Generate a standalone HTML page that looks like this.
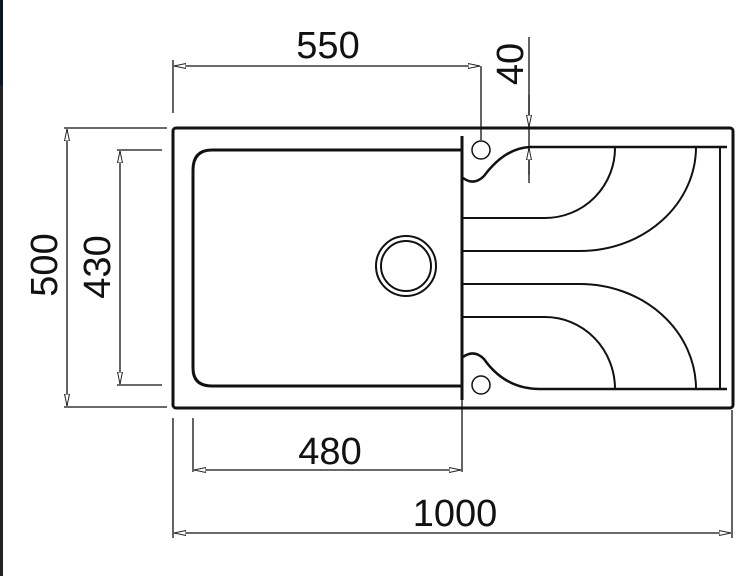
<!DOCTYPE html>
<html><head><style>html,body{margin:0;padding:0;background:#fff}svg{display:block}</style></head>
<body>
<svg width="747" height="576" viewBox="0 0 747 576" xmlns="http://www.w3.org/2000/svg" font-family="Liberation Sans, sans-serif">
<rect x="0" y="0" width="747" height="576" fill="#fff"/>
<rect x="0" y="0" width="3" height="576" fill="#222"/>
<rect x="0" y="0" width="3" height="85" fill="#0c1420"/>
<defs><marker id="a" markerWidth="12" markerHeight="6" refX="12" refY="3" orient="auto" markerUnits="userSpaceOnUse"><path d="M0,0.5 L12,3 L0,5.5 Z" fill="#fff" stroke="#222" stroke-width="1"/></marker></defs>
<g fill="none" stroke="#111">
<!-- outer -->
<rect x="173" y="128" width="560" height="280" rx="3" stroke-width="3"/>
<!-- bowl -->
<path d="M462,150 H212 Q193,150 193,170 V368 Q193,386 212,386 H462" stroke-width="3"/>
<line x1="462" y1="136" x2="462" y2="400" stroke-width="3"/>
<circle cx="406" cy="266" r="30" stroke-width="2"/>
<circle cx="406" cy="266" r="25" stroke-width="2"/>
<circle cx="481" cy="150" r="9" stroke-width="1.5"/>
<circle cx="481" cy="385" r="9" stroke-width="1.5"/>
<!-- drainer -->
<path d="M463,178 Q474,186 484,176 Q505,148 530,147 H727" stroke-width="2.5"/>
<path d="M463,357 Q474,349 484,359 Q505,389 540,389 H727" stroke-width="2.5"/>
<line x1="720" y1="147" x2="720" y2="389" stroke-width="2"/>
<path d="M463,218 H545 A70,70 0 0 0 615,147" stroke-width="2"/>
<path d="M463,251 H580 A116,104 0 0 0 696,147" stroke-width="2"/>
<path d="M463,284 H580 A116,105 0 0 1 696,389" stroke-width="2"/>
<path d="M463,317 H545 A70,72 0 0 1 615,389" stroke-width="2"/>
<!-- dims -->
<g stroke-width="1.3">
<line x1="173" y1="60" x2="173" y2="113"/>
<line x1="481" y1="66" x2="481" y2="140"/>
<line x1="328" y1="66" x2="174" y2="66" marker-end="url(#a)"/>
<line x1="328" y1="66" x2="480" y2="66" marker-end="url(#a)"/>
<line x1="529" y1="37" x2="529" y2="183"/>
<line x1="529" y1="95" x2="529" y2="127" marker-end="url(#a)"/>
<line x1="529" y1="175" x2="529" y2="148" marker-end="url(#a)"/>
<line x1="64" y1="128" x2="167" y2="128"/>
<line x1="64" y1="407" x2="167" y2="407"/>
<line x1="67" y1="265" x2="67" y2="129" marker-end="url(#a)"/>
<line x1="67" y1="265" x2="67" y2="406" marker-end="url(#a)"/>
<line x1="117" y1="150" x2="162" y2="150"/>
<line x1="117" y1="385" x2="162" y2="385"/>
<line x1="120" y1="268" x2="120" y2="151" marker-end="url(#a)"/>
<line x1="120" y1="268" x2="120" y2="384" marker-end="url(#a)"/>
<line x1="193" y1="418" x2="193" y2="472"/>
<line x1="462" y1="400" x2="462" y2="472"/>
<line x1="328" y1="470" x2="194" y2="470" marker-end="url(#a)"/>
<line x1="328" y1="470" x2="461" y2="470" marker-end="url(#a)"/>
<line x1="173" y1="418" x2="173" y2="538"/>
<line x1="732" y1="410" x2="732" y2="538"/>
<line x1="452" y1="533" x2="174" y2="533" marker-end="url(#a)"/>
<line x1="452" y1="533" x2="731" y2="533" marker-end="url(#a)"/>
</g>
</g>
<g fill="#111" font-size="38" text-anchor="middle">
<text x="328" y="58">550</text>
<text x="330" y="464">480</text>
<text x="455" y="526">1000</text>
<text transform="translate(57,265) rotate(-90)">500</text>
<text transform="translate(110,267) rotate(-90)">430</text>
<text transform="translate(523,64) rotate(-90)">40</text>
</g>
</svg>
</body></html>
